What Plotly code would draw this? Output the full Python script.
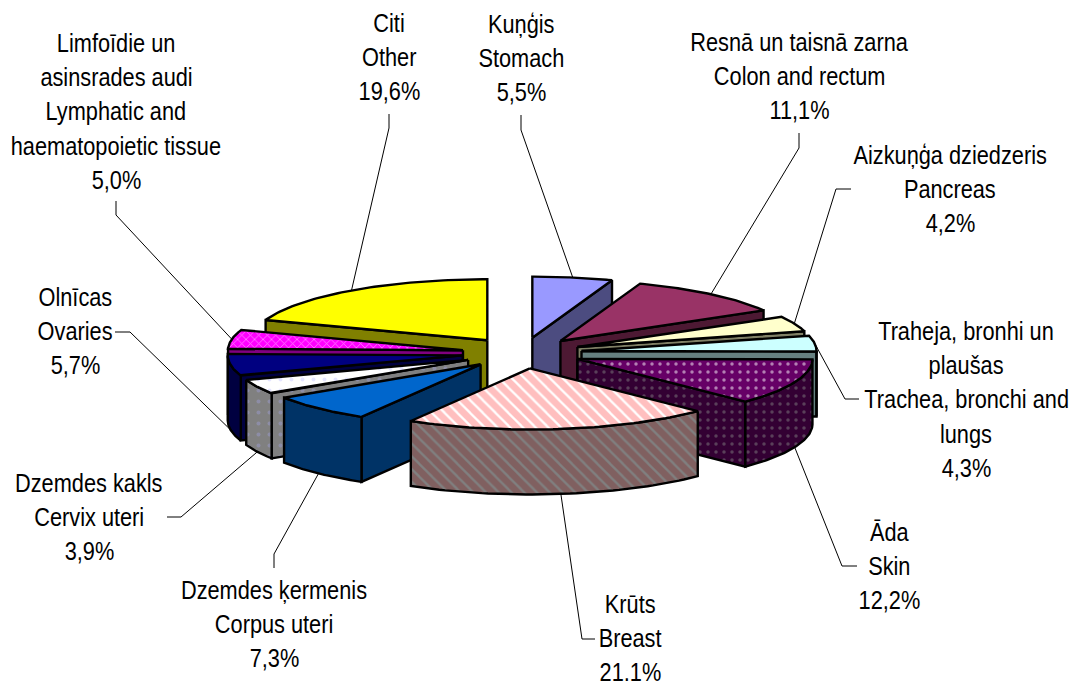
import numpy as np
import plotly.graph_objects as go

# ---- data (clockwise from 12 o'clock) ----
names = ["Stomach", "Colon", "Pancreas", "Trachea", "Skin", "Breast",
         "Corpus", "Cervix", "Ovaries", "Lymph", "Other"]
values = [5.5, 11.1, 4.2, 4.3, 12.2, 21.1, 7.3, 3.9, 5.7, 5.0, 19.6]
label_lines = [
    ["Kuņģis", "Stomach", "5,5%"],
    ["Resnā un taisnā zarna", "Colon and rectum", "11,1%"],
    ["Aizkuņģa dziedzeris", "Pancreas", "4,2%"],
    ["Traheja, bronhi un", "plaušas", "Trachea, bronchi and", "lungs", "4,3%"],
    ["Āda", "Skin", "12,2%"],
    ["Krūts", "Breast", "21,1%"],
    ["Dzemdes ķermenis", "Corpus uteri", "7,3%"],
    ["Dzemdes kakls", "Cervix uteri", "3,9%"],
    ["Olnīcas", "Ovaries", "5,7%"],
    ["Limfoīdie un", "asinsrades audi", "Lymphatic and", "haematopoietic tissue", "5,0%"],
    ["Citi", "Other", "19,6%"],
]
# ---- styles ----
top_colors = ["#9999FF", "#993366", "#FFFFCC", "#CCFFFF", "#660066", "#FFFFFF",
              "#0066CC", "#FFFFFF", "#000080", "#FF00FF", "#FFFF00"]
wall_colors = ["#4C4C80", "#4D1933", "#808066", "#668080", "#330033", "#808080",
               "#003366", "#808080", "#000040", "#800080", "#808000"]
top_patterns = [None, None, None, None,
                dict(shape=".", fgcolor="#FFFFFF", size=8, solidity=0.15),
                dict(shape="\\", fgcolor="#FF8080", size=9, solidity=0.75),
                None,
                dict(shape=".", fgcolor="#CCCCFF", size=11, solidity=0.1),
                None,
                dict(shape="x", fgcolor="#FFFFFF", size=6, solidity=0.25),
                None]
wall_patterns = [None, None, None, None,
                 dict(shape=".", fgcolor="#808080", size=8, solidity=0.15),
                 dict(shape="\\", fgcolor="#804040", size=9, solidity=0.75),
                 None,
                 dict(shape=".", fgcolor="#9999CC", size=11, solidity=0.1),
                 None, None, None]

# ---- layout of the pie and labels ----
W, H = 1072, 681
CX, CY = 522, 353     # pie centre
RX, RY = 235, 61      # ellipse radii
PULL = 60             # explosion (in x units)
DEPTH = 65
FONT = dict(family="Liberation Sans, Arial", size=25, color="#000000")
TEXT_SQUEEZE = 0.87   # the reference type is a narrow face
label_x = [521, 799, 950, 966, 889, 630, 274, 89, 75, 116, 389]
label_y0 = [24, 42, 155, 331, 532, 604, 590, 483, 297, 43, 23]
LINE_STEP = 34.2
# elbow of each leader: [label end, bend]
leader_pts = [
    [(521, 115), (521, 130)],
    [(799, 133), (799, 148)],
    [(851, 189), (836, 189)],
    [(859, 399), (845, 399)],
    [(857, 566), (842, 566)],
    [(595, 639), (582, 639)],
    [(274, 568), (274, 554)],
    [(167, 517), (181, 517)],
    [(115, 332), (130, 332)],
    [(116, 201), (116, 215)],
    [(389, 114), (389, 128)],
]

vals = np.array(values, dtype=float)
edges = np.concatenate([[0], np.cumsum(vals) / vals.sum() * 2 * np.pi])
LINE = dict(color="#000000", width=2.4)


def pt(theta, r, pull_theta):
    """Projected point at angle theta (clockwise from top), radius fraction r."""
    ox = PULL * np.sin(pull_theta)
    oy = -PULL * (RY / RX) * np.cos(pull_theta)
    return CX + ox + RX * r * np.sin(theta), CY + oy - RY * r * np.cos(theta)


def poly(xs, ys, color, pattern, name):
    kw = {}
    if pattern:
        kw["fillpattern"] = dict(bgcolor=color, **pattern)
    return go.Scatter(x=list(xs) + [xs[0]], y=list(ys) + [ys[0]], mode="lines",
                      fill="toself", fillcolor=color, line=LINE, name=name,
                      hoverinfo="skip", showlegend=False, **kw)


fig = go.Figure()
mids = (edges[:-1] + edges[1:]) / 2
order = np.argsort(-np.cos(mids))
for i in order:
    a, b, m = edges[i], edges[i + 1], mids[i]
    ax, ay = pt(a, 0, m)
    sx, sy = pt(a, 1, m)
    ex, ey = pt(b, 1, m)
    # radial walls
    if np.sin(a) < 0:
        fig.add_trace(poly([ax, sx, sx, ax], [ay, sy, sy + DEPTH, ay + DEPTH],
                           wall_colors[i], wall_patterns[i], names[i] + " wall"))
    if np.sin(b) > 0:
        fig.add_trace(poly([ax, ex, ex, ax], [ay, ey, ey + DEPTH, ay + DEPTH],
                           wall_colors[i], wall_patterns[i], names[i] + " wall"))
    # curved outer wall (front half only)
    lo, hi = max(a, np.pi / 2), min(b, 3 * np.pi / 2)
    if hi > lo:
        t = np.linspace(lo, hi, 50)
        x, y = pt(t, 1, m)
        fig.add_trace(poly(np.r_[x, x[::-1]], np.r_[y, y[::-1] + DEPTH],
                           wall_colors[i], wall_patterns[i], names[i] + " rim"))
    # top face
    t = np.linspace(a, b, 60)
    x, y = pt(t, 1, m)
    fig.add_trace(poly(np.r_[ax, x], np.r_[ay, y], top_colors[i], top_patterns[i], names[i]))

# leaders, anchored on the slice edge at the mid angle
for i, (p0, p1) in enumerate(leader_pts):
    x, y = pt(mids[i], 1, mids[i])
    if np.cos(mids[i]) < -0.05:
        y += DEPTH
    fig.add_trace(go.Scatter(x=[p0[0], p1[0], x], y=[p0[1], p1[1], y], mode="lines",
                             line=dict(color="#000000", width=1), hoverinfo="skip",
                             showlegend=False))

annotations = []
for i, lines in enumerate(label_lines):
    for j, txt in enumerate(lines):
        annotations.append(dict(x=label_x[i], y=label_y0[i] + j * LINE_STEP, text=txt,
                                xref="x", yref="y", showarrow=False, font=FONT,
                                xanchor="center", yanchor="middle"))

fig.update_layout(
    width=W, height=H, margin=dict(l=0, r=0, t=0, b=0),
    paper_bgcolor="#FFFFFF", plot_bgcolor="#FFFFFF", annotations=annotations,
    xaxis=dict(range=[0, W], visible=False, fixedrange=True),
    yaxis=dict(range=[H, 0], visible=False, fixedrange=True),
)
post = """
document.body.style.margin='0';document.body.style.overflow='hidden';
document.querySelectorAll('text.annotation-text').forEach(function(t){
  var b=t.getBBox(), c=b.x+b.width/2, s=%s;
  t.setAttribute('transform','translate('+c+',0) scale('+s+',1) translate('+(-c)+',0)');
});
""" % TEXT_SQUEEZE
fig.write_html("out.html", config=dict(displayModeBar=False), post_script=post)
